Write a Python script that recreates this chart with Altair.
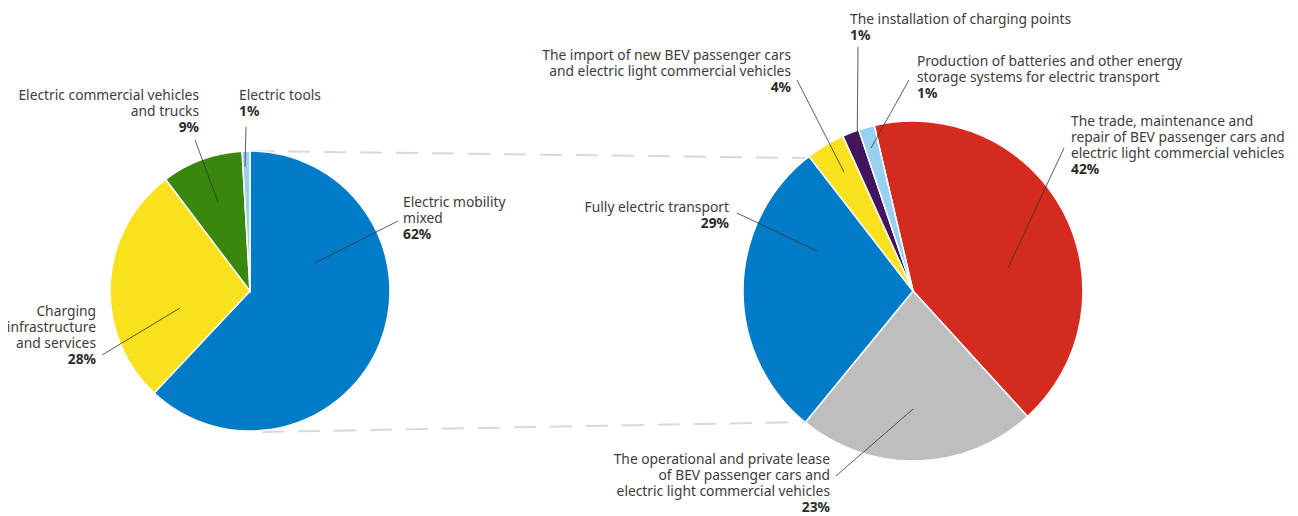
import math
import altair as alt
import pandas as pd

# ---------------- data ----------------
left_categories = ["Electric mobility mixed", "Charging infrastructure and services",
                   "Electric commercial vehicles and trucks", "Electric tools"]
left_values = [62.0, 27.7, 9.4, 0.9]
left_pct = ["62%", "28%", "9%", "1%"]
left_lines = [["Electric mobility", "mixed"],
              ["Charging", "infrastructure", "and services"],
              ["Electric commercial vehicles", "and trucks"],
              ["Electric tools"]]

right_categories = ["Trade, maintenance and repair", "Operational and private lease",
                    "Fully electric transport", "Import of new BEV",
                    "Installation of charging points", "Production of batteries"]
right_values = [41.9, 22.7, 28.6, 3.7, 1.6, 1.5]
right_pct = ["42%", "23%", "29%", "4%", "1%", "1%"]
right_lines = [["The trade, maintenance and", "repair of BEV passenger cars and",
                "electric light commercial vehicles"],
               ["The operational and private lease", "of BEV passenger cars and",
                "electric light commercial vehicles"],
               ["Fully electric transport"],
               ["The import of new BEV passenger cars", "and electric light commercial vehicles"],
               ["The installation of charging points"],
               ["Production of batteries and other energy", "storage systems for electric transport"]]

# ---------------- styles / layout ----------------
left_colors = ["#007BC7", "#F9E11E", "#39870C", "#97D0F0"]
right_colors = ["#D52B1E", "#BEBEBE", "#007BC7", "#F9E11E", "#42145F", "#97D0F0"]

M = 8  # page margin
LEFT_C, LEFT_R, LEFT_START = (250, 291), 140, 0.0
RIGHT_C, RIGHT_R, RIGHT_START = (913, 291), 170, 346.8

# label anchor (page px): x, first-line centre y, align, leader (x1, y1, x2, y2)
left_layout = [
    (403, 203, "left", (398, 221, 315, 263)),
    (96, 312, "right", (102, 355, 180, 308)),
    (199, 96, "right", (195, 140, 218, 202)),
    (239, 96, "left", (246, 127, 245, 167)),
]
right_layout = [
    (1071, 122, "left", (1064, 148, 1008, 268)),
    (830, 460, "right", (836, 476, 913, 409)),
    (729, 208, "right", (737, 213, 817, 251)),
    (791, 56, "right", (797, 80, 844, 172)),
    (850, 20, "left", (858, 47, 857, 160)),
    (917, 62, "left", (909, 80, 871, 148)),
]
dashed = [(252, 151, 806, 158), (262, 432, 806, 422)]
LINE_H = 16
TOP_SHIFT = 7  # centre of first line -> top of text block
FONT = "Noto Sans"
FS = 13.8


def pie_df(cats, vals, cols):
    rows, cum = [], 0.0
    for c, v, col in zip(cats, vals, cols):
        rows.append({"cat": c, "start": cum, "end": cum + v, "color": col})
        cum += v
    return pd.DataFrame(rows)


def pie_layer(df, center, r, start_deg):
    a0 = math.radians(start_deg)
    return alt.Chart(df).mark_arc(outerRadius=r, stroke="white", strokeWidth=1.5).encode(
        theta=alt.Theta("start:Q", scale=alt.Scale(domain=[0, 100], range=[a0, a0 + 2 * math.pi])),
        theta2="end:Q",
        color=alt.Color("color:N", scale=None),
        x=alt.value(center[0] - M),
        y=alt.value(center[1] - M),
    )


block_rows, pct_rows, leader_rows = [], [], []
for lines_all, pcts, layout in ((left_lines, left_pct, left_layout),
                                (right_lines, right_pct, right_layout)):
    for lines, pct, (lx, ly, al, ld) in zip(lines_all, pcts, layout):
        block_rows.append({"t": "\n".join(lines), "x": lx - M, "y": ly - M - TOP_SHIFT, "align": al})
        pct_rows.append({"t": pct, "x": lx - M, "y": ly - M + len(lines) * LINE_H, "align": al})
        leader_rows.append({"x": ld[0] - M, "y": ld[1] - M, "x2": ld[2] - M, "y2": ld[3] - M})

block_df = pd.DataFrame(block_rows)
pct_df = pd.DataFrame(pct_rows)
leader_df = pd.DataFrame(leader_rows)
dash_df = pd.DataFrame([{"x": a - M, "y": b - M, "x2": c - M, "y2": d - M} for a, b, c, d in dashed])

xy = dict(x=alt.X("x:Q", scale=None, axis=None), y=alt.Y("y:Q", scale=None, axis=None))
xy2 = dict(x2="x2:Q", y2="y2:Q")

dash_layer = alt.Chart(dash_df).mark_rule(color="#D9D9D9", strokeWidth=2, strokeDash=[22, 14]).encode(**xy, **xy2)
leader_layer = alt.Chart(leader_df).mark_rule(color="#333333", strokeWidth=0.8).encode(**xy, **xy2)

text_layers = []
for al in ("left", "right"):
    text_layers.append(
        alt.Chart(block_df).transform_filter(alt.datum.align == al).mark_text(
            align=al, baseline="top", font=FONT, fontSize=FS, lineBreak="\n",
            lineHeight=LINE_H, color="#3C3C3C",
        ).encode(**xy, text="t:N")
    )
    text_layers.append(
        alt.Chart(pct_df).transform_filter(alt.datum.align == al).mark_text(
            align=al, baseline="middle", font=FONT, fontSize=FS, fontWeight="bold",
            color="#2B2B2B",
        ).encode(**xy, text="t:N")
    )

chart = alt.layer(
    dash_layer,
    pie_layer(pie_df(left_categories, left_values, left_colors), LEFT_C, LEFT_R, LEFT_START),
    pie_layer(pie_df(right_categories, right_values, right_colors), RIGHT_C, RIGHT_R, RIGHT_START),
    leader_layer,
    *text_layers,
).resolve_scale(theta="independent").properties(
    width=1282, height=507, autosize="none", padding=0
).configure_view(stroke=None)

chart.save("out.html", embed_options={"renderer": "svg", "actions": False})
